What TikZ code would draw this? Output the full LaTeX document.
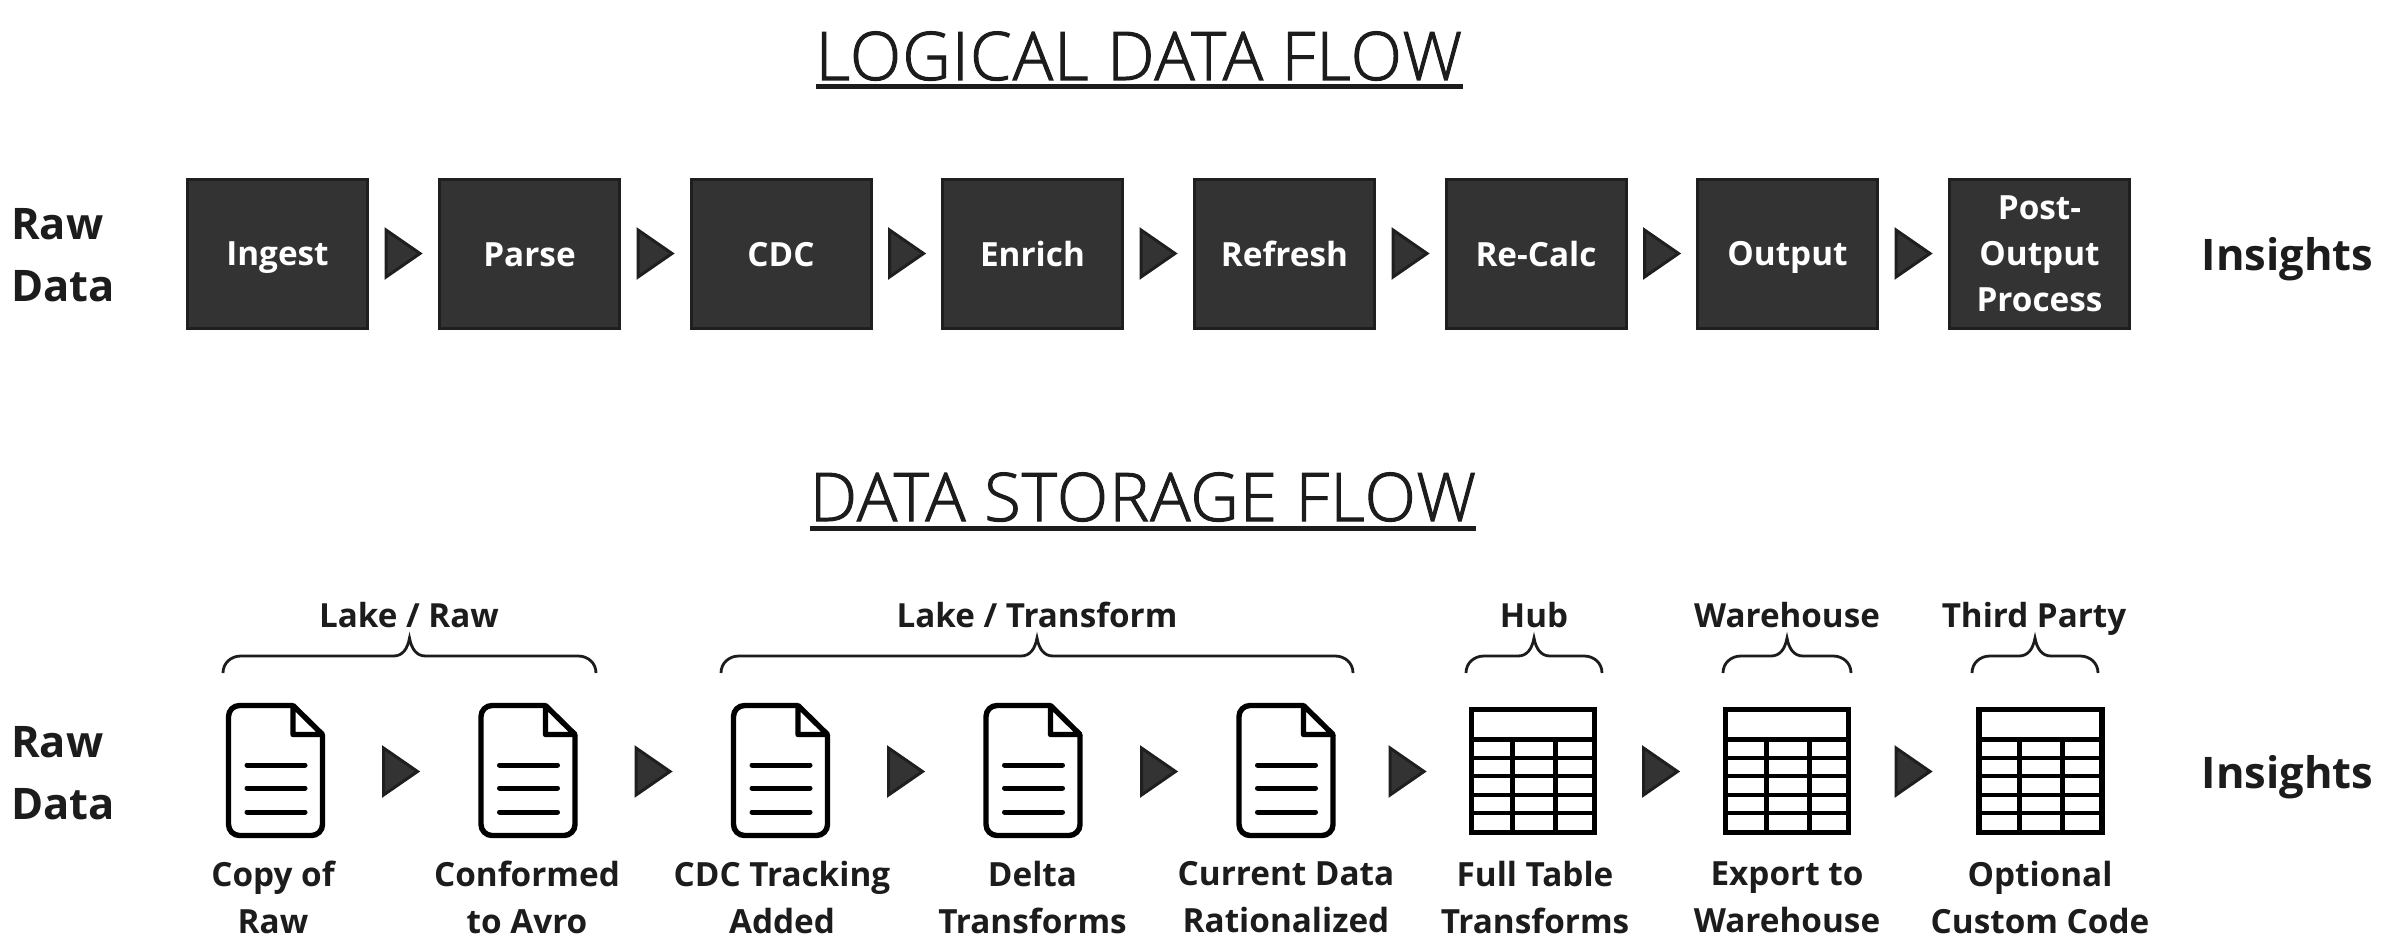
\documentclass[tikz,border=0pt]{standalone}
\usepackage{fontspec}
\setmainfont{Open Sans}
\newfontfamily\lightfont[FakeBold=1.5,LetterSpace=1.8]{Open Sans Light}
\usetikzlibrary{positioning,calc,shapes.geometric}
\definecolor{inkdark}{HTML}{1C1C1C}
\definecolor{boxfill}{HTML}{333333}
\definecolor{boxedge}{HTML}{1F1F1F}
\tikzset{
  every node/.style = {text=inkdark, inner sep=0pt, align=center},
  holdline/.style 2 args = {execute at begin node={\rule[-#1]{0pt}{\dimexpr#1+#2\relax}},
                            execute at end node={\rule[-#1]{0pt}{\dimexpr#1+#2\relax}}},
  stage/.style      = {draw=boxedge, line width=3pt, fill=boxfill, minimum width=180pt, minimum height=149pt,
                       text=white, font=\bfseries\fontsize{33.3}{46}\selectfont},
  solo/.style       = {stage, holdline={5.5pt}{31.5pt}},
  flow/.style       = {draw=boxedge, line width=3pt, fill=boxfill, isosceles triangle, isosceles triangle stretches,
                       minimum width=47pt, minimum height=34pt, inner sep=0pt, line join=miter, anchor=west},
  heading/.style    = {font=\lightfont\fontsize{67}{80}\selectfont, anchor=base},
  rule/.style       = {draw=inkdark, line width=5pt},
  endlbl/.style     = {font=\bfseries\fontsize{43.5}{62}\selectfont, holdline={12pt}{34pt}},
  caption/.style    = {font=\bfseries\fontsize{33.3}{47}\selectfont, holdline={9pt}{25pt}},
  zone/.style       = {font=\bfseries\fontsize{33.2}{40}\selectfont, holdline={9pt}{25pt}},
  curly/.style      = {draw=inkdark, line width=2.8pt, to path={
    let \p1=(\tikztostart), \p2=(\tikztotarget), \n1={(\x1+\x2)/2} in
    (\x1,\y1) .. controls (\x1,\y1+10pt) and (\x1+8pt,\y1+17pt) .. (\x1+18pt,\y1+17pt)
    -- (\n1-16pt,\y1+17pt) .. controls (\n1-7pt,\y1+17pt) and (\n1-2pt,\y1+24pt) .. (\n1,\y1+35pt)
    .. controls (\n1+2pt,\y1+24pt) and (\n1+7pt,\y1+17pt) .. (\n1+16pt,\y1+17pt)
    -- (\x2-18pt,\y1+17pt) .. controls (\x2-8pt,\y1+17pt) and (\x2,\y1+10pt) .. (\x2,\y1)}},
  slot/.style       = {minimum width=128pt, minimum height=135pt},
  docicon/.pic      = {
    \draw[black, line width=5.4pt, rounded corners=11pt] (47,-36) -- (47,65) -- (-47,65) -- (-47,-65) -- (17.5,-65);
    \draw[black, line width=5.4pt, line join=round] (17.5,-65) -- (47,-36) -- (17.5,-36) -- cycle;
    \draw[black, line width=5pt, line cap=round] (-28.5,-5.5) -- (29.5,-5.5);
    \draw[black, line width=5pt, line cap=round] (-28.5,17.5) -- (29.5,17.5);
    \draw[black, line width=5pt, line cap=round] (-28.5,41.5) -- (29.5,41.5);
  },
  tableicon/.pic    = {
    \draw[black, line width=5.3pt] (-61.5,-61.5) rectangle (61.5,61.5);
    \draw[black, line width=5pt] (-61.5,-32) -- (61.5,-32);
    \draw[black, line width=4.5pt] (-61.5,-13) -- (61.5,-13);
    \draw[black, line width=4.5pt] (-61.5,5) -- (61.5,5);
    \draw[black, line width=4.5pt] (-61.5,24) -- (61.5,24);
    \draw[black, line width=4.5pt] (-61.5,42) -- (61.5,42);
    \draw[black, line width=5pt] (-21,-32) -- (-21,61.5);
    \draw[black, line width=5pt] (22,-32) -- (22,61.5);
  },
}
\begin{document}
\begin{tikzpicture}[x=1pt, y=-1pt]
  \useasboundingbox (0,0) rectangle (2386,942);

  % logical row
  \node[heading] (logical) at (1139,80) {LOGICAL DATA FLOW};
  \draw[rule] ([yshift=-6.5pt]logical.base west) -- ([yshift=-6.5pt]logical.base east);
  \node[endlbl, align=left, anchor=west] (rawtop) at (11,261) {Raw\\Data};
  \node[solo] (ingest) at (277.5,253.5) {Ingest};
  \node[flow, right=15.5pt of ingest] (a1) {};
  \node[solo] (parse) at (529.5,253.5) {Parse};
  \node[flow, right=15.5pt of parse] (a2) {};
  \node[solo] (cdc) at (781,253.5) {CDC};
  \node[flow, right=15.5pt of cdc] (a3) {};
  \node[solo] (enrich) at (1032.5,253.5) {Enrich};
  \node[flow, right=15.5pt of enrich] (a4) {};
  \node[solo] (refresh) at (1284.5,253.5) {Refresh};
  \node[flow, right=15.5pt of refresh] (a5) {};
  \node[solo] (recalc) at (1536,253.5) {Re-Calc};
  \node[flow, right=15.5pt of recalc] (a6) {};
  \node[solo] (output) at (1787.5,253.5) {Output};
  \node[flow, right=15.5pt of output] (a7) {};
  \node[stage, holdline={0pt}{38pt}] (postout) at (2039.5,253.5) {Post-\\Output\\Process};
  \node[endlbl] (insighttop) at (2287.5,259.5) {Insights};

  % storage row
  \node[heading] (storage) at (1143,521) {DATA STORAGE FLOW};
  \draw[rule] ([yshift=-7.5pt]storage.base west) -- ([yshift=-7.5pt]storage.base east);
  \node[endlbl, align=left, anchor=west] (rawlow) at (11,779) {Raw\\Data};
  \node[slot] (copy) at (275.5,770.5) {};
  \node[slot] (conform) at (528,770.5) {};
  \node[slot] (track) at (780.5,770.5) {};
  \node[slot] (delta) at (1033,770.5) {};
  \node[slot] (current) at (1286,770.5) {};
  \node[slot] (full) at (1533,771) {};
  \node[slot] (export) at (1787,771) {};
  \node[slot] (custom) at (2040.5,771) {};
  \pic at (copy) {docicon};
  \pic at (conform) {docicon};
  \pic at (track) {docicon};
  \pic at (delta) {docicon};
  \pic at (current) {docicon};
  \pic at (full) {tableicon};
  \pic at (export) {tableicon};
  \pic at (custom) {tableicon};
  \node[flow] (b1) at (382,771.5) {};
  \node[flow] (b2) at (634.5,771.5) {};
  \node[flow] (b3) at (887,771.5) {};
  \node[flow] (b4) at (1140,771.5) {};
  \node[flow] (b5) at (1388.5,771.5) {};
  \node[flow] (b6) at (1642,771.5) {};
  \node[flow] (b7) at (1894.5,771.5) {};
  \node[endlbl] (insightlow) at (2287.5,777) {Insights};

  % captions
  \node[caption] (lcopy) at (273,901.5) {Copy of\\Raw};
  \node[caption] (lconform) at (527,901.5) {Conformed\\to Avro};
  \node[caption] (ltrack) at (782,901.5) {CDC Tracking\\Added};
  \node[caption] (ldelta) at (1032.5,901.5) {Delta\\Transforms};
  \node[caption] (lcurrent) at (1286,901.5) {Current Data\\Rationalized};
  \node[caption] (lfull) at (1535,901.5) {Full Table\\Transforms};
  \node[caption] (lexport) at (1787,901.5) {Export to\\Warehouse};
  \node[caption] (lcustom) at (2040,901.5) {Optional\\Custom Code};

  % storage zones
  \coordinate (z1a) at (223,673);
  \coordinate (z1b) at (596,673);
  \coordinate (z2a) at (721,673);
  \coordinate (z2b) at (1353,673);
  \coordinate (z3a) at (1466,673);
  \coordinate (z3b) at (1602,673);
  \coordinate (z4a) at (1723,673);
  \coordinate (z4b) at (1851,673);
  \coordinate (z5a) at (1972,673);
  \coordinate (z5b) at (2098,673);
  \draw[curly] (z1a) to (z1b);
  \draw[curly] (z2a) to (z2b);
  \draw[curly] (z3a) to (z3b);
  \draw[curly] (z4a) to (z4b);
  \draw[curly] (z5a) to (z5b);
  \node[zone] (lake) at (409,619.5) {Lake / Raw};
  \node[zone] (transform) at (1037,619.5) {Lake / Transform};
  \node[zone] (hub) at (1534,619.5) {Hub};
  \node[zone] (ware) at (1787,619.5) {Warehouse};
  \node[zone] (third) at (2034,619.5) {Third Party};
\end{tikzpicture}
\end{document}
